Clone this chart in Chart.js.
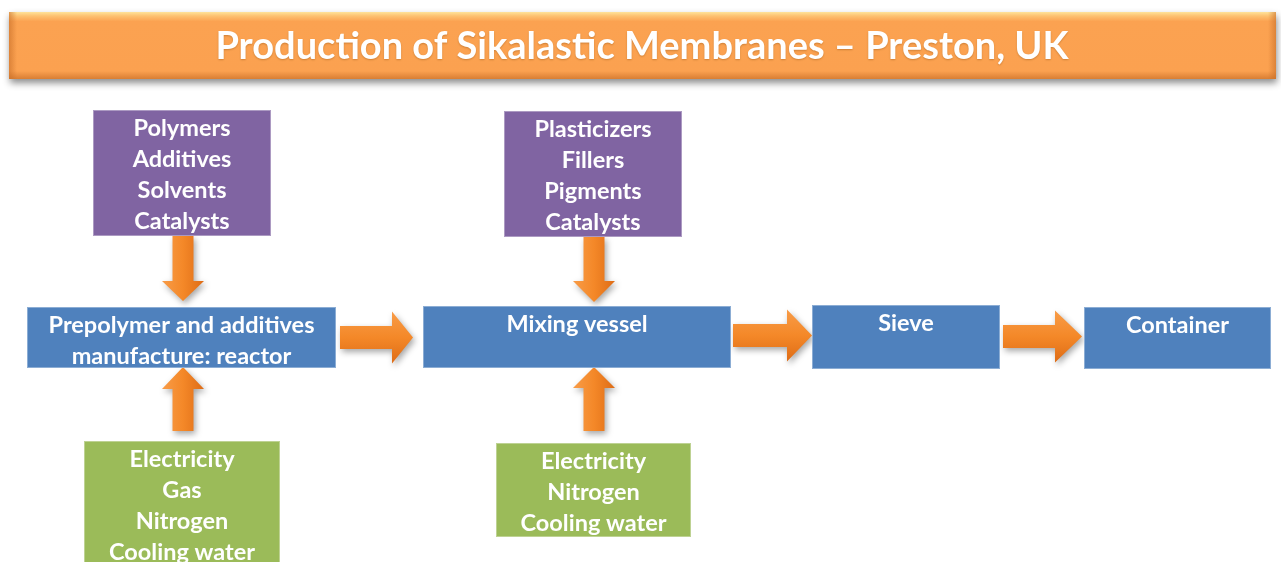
<!DOCTYPE html>
<html>
<head>
<meta charset="utf-8">
<script src="https://cdn.jsdelivr.net/npm/chart.js@4/dist/chart.umd.min.js"></script>
<style>
html,body{margin:0;padding:0;background:#fff;overflow:hidden}
#wrap{width:1281px;height:562px;position:relative}
</style>
</head>
<body>
<div id="wrap"><canvas id="c" width="1281" height="562"></canvas></div>
<script>
// ---- content ----
const chartTitle = 'Production of Sikalastic Membranes \u2013 Preston, UK';
const processSteps = ['Prepolymer and additives\nmanufacture: reactor', 'Mixing vessel', 'Sieve', 'Container'];
const materialInputs = [
  ['Polymers', 'Additives', 'Solvents', 'Catalysts'],
  ['Plasticizers', 'Fillers', 'Pigments', 'Catalysts']
];
const utilityInputs = [
  ['Electricity', 'Gas', 'Nitrogen', 'Cooling water'],
  ['Electricity', 'Nitrogen', 'Cooling water']
];

// ---- layout (diagram units on the chart's linear scales) ----
const L = {
  titleBox: [9, 1276, 12, 79],
  processBoxes: [[27,336,307,368],[423,731,306,368],[812,1000,305,369],[1084,1271,307,369]],
  materialBoxes: [[93,271,110,236],[504,682,111,237]],
  utilityBoxes: [[84,280,441,580],[496,691,443,537]],
  downArrows: [[183,236,281,301],[594,237,281,302]],   // cx, yStart, headStart, tip
  upArrows: [[183,431,389,367],[594,431,388,367]],
  rightArrows: [[340,392,413,337.5],[733,787,812,335.5],[1003,1055,1082,336.5]], // xStart, headStart, tip, cy
  shaftHalf: 10.5, headHalf: 21, hShaftHalf: 11.5, hHeadHalf: 26
};
const colors = {
  process: '#4F81BD', material: '#8064A2', utility: '#9BBB59',
  arrowLight: '#F89C48', arrowDark: '#DE6C16', title: '#FBA150'
};
const FONT = '"Lato", "Open Sans", sans-serif';

// centres of every box as a scatter dataset
const centres = [];
[...L.processBoxes, ...L.materialBoxes, ...L.utilityBoxes].forEach(b => centres.push({x:(b[0]+b[1])/2, y:(b[2]+b[3])/2}));

const diagram = {
  id: 'diagram',
  afterDatasetsDraw(chart) {
    const ctx = chart.ctx, xs = chart.scales.x, ys = chart.scales.y;
    const X = v => xs.getPixelForValue(v), Y = v => ys.getPixelForValue(v);

    // title bar
    (function(){
      const [x0,x1,y0,y1] = L.titleBox;
      const px0=X(x0), px1=X(x1), py0=Y(y0), py1=Y(y1);
      ctx.save();
      ctx.shadowColor='rgba(0,0,0,0.45)'; ctx.shadowBlur=7; ctx.shadowOffsetY=4; ctx.shadowOffsetX=1;
      ctx.fillStyle=colors.title; ctx.fillRect(px0,py0,px1-px0,py1-py0);
      ctx.restore();
      const g = ctx.createLinearGradient(0,py0,0,py1);
      g.addColorStop(0,'#FFE39A'); g.addColorStop(0.06,'#FDC170'); g.addColorStop(0.14,'#FBA251');
      g.addColorStop(0.88,'#FBA150'); g.addColorStop(1,'#D97E33');
      ctx.fillStyle=g; ctx.fillRect(px0,py0,px1-px0,py1-py0);
      const gl = ctx.createLinearGradient(px0,0,px0+8,0);
      gl.addColorStop(0,'rgba(200,110,40,0.6)'); gl.addColorStop(1,'rgba(200,110,40,0)');
      ctx.fillStyle=gl; ctx.fillRect(px0,py0,8,py1-py0);
      const gr = ctx.createLinearGradient(px1,0,px1-8,0);
      gr.addColorStop(0,'rgba(200,110,40,0.6)'); gr.addColorStop(1,'rgba(200,110,40,0)');
      ctx.fillStyle=gr; ctx.fillRect(px1-8,py0,8,py1-py0);
      ctx.save();
      ctx.fillStyle='#fff'; ctx.font='bold 38px '+FONT; ctx.textAlign='center'; ctx.textBaseline='middle';
      ctx.shadowColor='rgba(120,60,0,0.35)'; ctx.shadowBlur=2; ctx.shadowOffsetY=1;
      ctx.fillText(chartTitle, 642, (py0+py1)/2+1);
      ctx.restore();
    })();

    // arrows
    function arrowPath(pts){ ctx.beginPath(); pts.forEach((p,i)=> i?ctx.lineTo(p[0],p[1]):ctx.moveTo(p[0],p[1])); ctx.closePath(); }
    function fillArrow(pts, gx0, gy0, gx1, gy1){
      ctx.save();
      ctx.shadowColor='rgba(0,0,0,0.35)'; ctx.shadowBlur=6; ctx.shadowOffsetX=2; ctx.shadowOffsetY=3;
      const g = ctx.createLinearGradient(gx0,gy0,gx1,gy1);
      g.addColorStop(0,colors.arrowLight); g.addColorStop(0.5,'#F48828'); g.addColorStop(1,colors.arrowDark);
      ctx.fillStyle=g; arrowPath(pts); ctx.fill();
      ctx.restore();
    }
    L.downArrows.forEach(a=>{
      const [cx,ys0,hs,tip]=a, s=L.shaftHalf, h=L.headHalf;
      fillArrow([[X(cx-s),Y(ys0)],[X(cx+s),Y(ys0)],[X(cx+s),Y(hs)],[X(cx+h),Y(hs)],[X(cx),Y(tip)],[X(cx-h),Y(hs)],[X(cx-s),Y(hs)]],
        X(cx-h),0,X(cx+h),0);
    });
    L.upArrows.forEach(a=>{
      const [cx,ys0,hs,tip]=a, s=L.shaftHalf, h=L.headHalf;
      fillArrow([[X(cx-s),Y(ys0)],[X(cx+s),Y(ys0)],[X(cx+s),Y(hs)],[X(cx+h),Y(hs)],[X(cx),Y(tip)],[X(cx-h),Y(hs)],[X(cx-s),Y(hs)]],
        X(cx-h),0,X(cx+h),0);
    });
    L.rightArrows.forEach(a=>{
      const [xs0,hs,tip,cy]=a, s=L.hShaftHalf, h=L.hHeadHalf;
      fillArrow([[X(xs0),Y(cy-s)],[X(hs),Y(cy-s)],[X(hs),Y(cy-h)],[X(tip),Y(cy)],[X(hs),Y(cy+h)],[X(hs),Y(cy+s)],[X(xs0),Y(cy+s)]],
        0,Y(cy-h),0,Y(cy+h));
    });

    // boxes
    function box(b, fill, lines){
      const [x0,x1,y0,y1]=b;
      const px0=X(x0), px1=X(x1), py0=Y(y0), py1=Y(y1);
      ctx.fillStyle=fill; ctx.fillRect(px0,py0,px1-px0,py1-py0);
      ctx.strokeStyle='rgba(255,255,255,0.35)'; ctx.lineWidth=1;
      ctx.strokeRect(px0+0.5,py0+0.5,px1-px0-1,py1-py0-1);
      ctx.save();
      ctx.fillStyle='#fff'; ctx.font='bold 23.5px '+FONT; ctx.textAlign='center'; ctx.textBaseline='middle';
      const cx=(px0+px1)/2;
      lines.forEach((t,i)=> ctx.fillText(t, cx, py0+18.5+i*31));
      ctx.restore();
    }
    L.processBoxes.forEach((b,i)=> box(b, colors.process, processSteps[i].split('\n')));
    L.materialBoxes.forEach((b,i)=> box(b, colors.material, materialInputs[i]));
    L.utilityBoxes.forEach((b,i)=> box(b, colors.utility, utilityInputs[i]));
  }
};

new Chart(document.getElementById('c'), {
  type: 'scatter',
  data: { datasets: [{ label: 'nodes', data: centres, pointRadius: 0, pointHoverRadius: 0 }] },
  options: {
    responsive: false, animation: false, devicePixelRatio: 1,
    layout: { padding: 0 },
    plugins: { legend: { display: false }, tooltip: { enabled: false }, title: { display: false } },
    scales: {
      x: { type: 'linear', min: 0, max: 1281, display: false },
      y: { type: 'linear', min: 0, max: 562, reverse: true, display: false }
    }
  },
  plugins: [diagram]
});
</script>
</body>
</html>
